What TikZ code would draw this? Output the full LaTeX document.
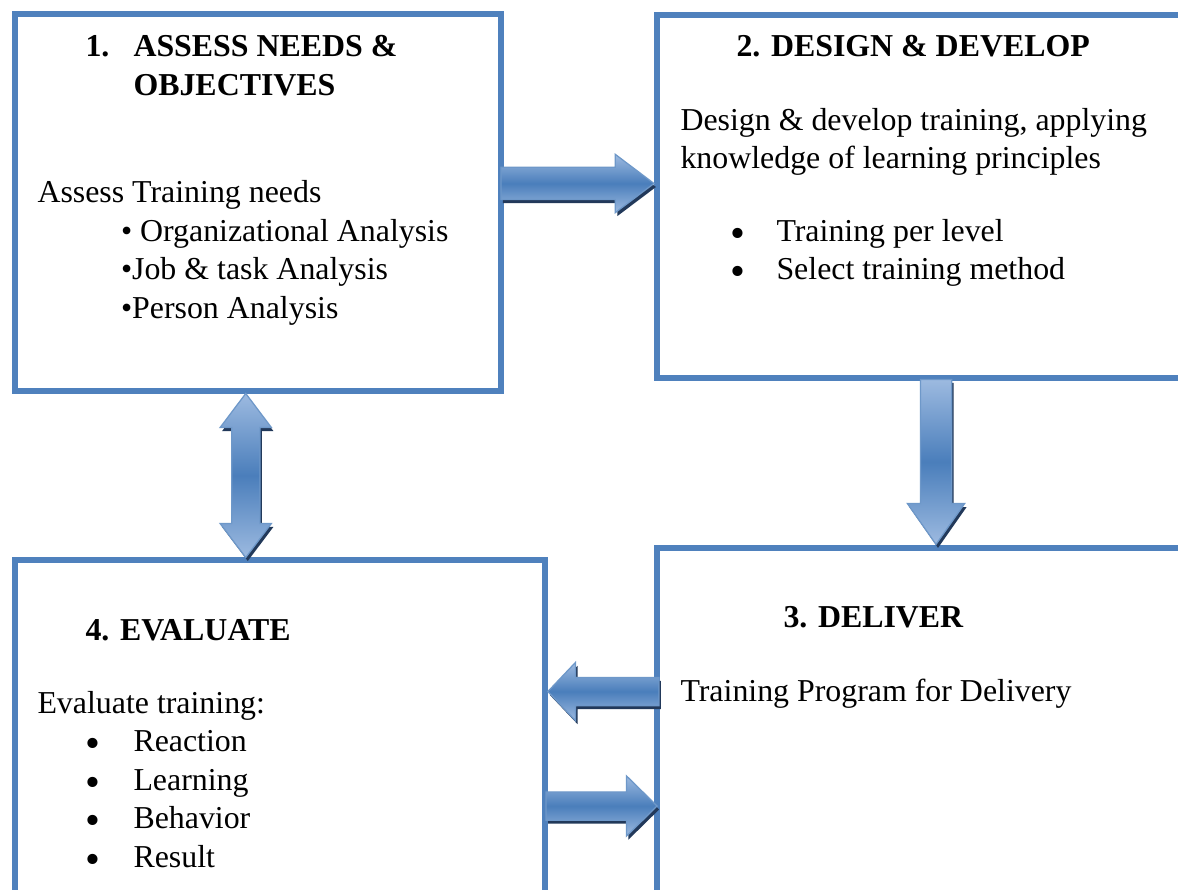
\documentclass[tikz,border=0pt]{standalone}
\usepackage{fontspec}
\setmainfont{Liberation Serif}
\usetikzlibrary{calc,shapes.arrows,shadows}
\definecolor{boxblue}{HTML}{4F81BD}
\definecolor{arrlight}{HTML}{9DBAE0}
\definecolor{arrmid}{HTML}{4A7EBB}
\definecolor{arrshade}{HTML}{22395A}
\newcommand\bigbul{\raisebox{-2.4pt}{\fontsize{17}{15}\selectfont\textbullet}}
\begin{document}
\begin{tikzpicture}[
  x=0.4pt, y=-0.4pt,
  font=\fontsize{12.75}{15.4}\selectfont,
  box/.style={draw=boxblue, line width=2.4pt, inner sep=0pt, outer sep=0pt, anchor=north west},
  head/.style={anchor=base west, inner sep=0pt, font=\fontsize{12.75}{15.4}\selectfont\bfseries},
  txt/.style={anchor=base west, inner sep=0pt},
  bul/.style={anchor=base, inner sep=0pt},
  blockarrow/.style={draw=arrmid!80!white, line width=0.5pt, minimum width=0pt,
    top color=arrlight, bottom color=arrlight, middle color=arrmid,
    drop shadow={shadow xshift=0.8pt, shadow yshift=-1.4pt, fill=arrshade, opacity=1}},
  onearrow/.style={blockarrow, single arrow, inner sep=#1, anchor=tip},
  twoarrow/.style={blockarrow, double arrow, inner sep=#1}
]
\useasboundingbox (0,0) rectangle (1178,890);
\fill[white] (0,0) rectangle (1178,890);
\clip (0,0) rectangle (1178,890);

% the four boxes
\node[box, minimum width=194.6pt, minimum height=150.8pt] (b1) at (14.5,14) {};
\node[box, minimum width=213.2pt, minimum height=145.2pt] (b2) at (657,15) {};
\node[box, minimum width=213.2pt, minimum height=140.8pt] (b3) at (657,548) {};
\node[box, minimum width=212.2pt, minimum height=136pt] (b4) at (14.5,560) {};

% box 1
\node[head] (h1n) at (85,57) {1.};
\node[head] (h1a) at (133,57) {ASSESS NEEDS \&};
\node[head] (h1b) at (133,95.5) {OBJECTIVES};
\node[txt] (t1a) at (37,203) {Assess Training needs};
\node[txt] (t1b) at (120.5,241.5) {\textbullet\ Organizational Analysis};
\node[txt] (t1c) at (120.5,280) {\textbullet Job \& task Analysis};
\node[txt] (t1d) at (120.5,318.5) {\textbullet Person Analysis};

% box 2
\node[head] (h2) at (736,57) {2. DESIGN \& DEVELOP};
\node[txt] (t2a) at (680,131) {Design \& develop training, applying};
\node[txt] (t2b) at (680,169) {knowledge of learning principles};
\node[bul] (t2c) at (738,242) {\bigbul};
\node[txt] (t2d) at (776,242) {Training per level};
\node[bul] (t2e) at (738,280) {\bigbul};
\node[txt] (t2f) at (776,280) {Select training method};

% box 3
\node[head] (h3) at (783,628) {3. DELIVER};
\node[txt] (t3a) at (680,701) {Training Program for Delivery};

% box 4
\node[head] (h4) at (85,641) {4. EVALUATE};
\node[txt] (t4a) at (37,713) {Evaluate training:};
\node[bul] (t4b) at (93,751) {\bigbul};
\node[txt] (t4c) at (133,751) {Reaction};
\node[bul] (t4d) at (93,790) {\bigbul};
\node[txt] (t4e) at (133,790) {Learning};
\node[bul] (t4f) at (93,828) {\bigbul};
\node[txt] (t4g) at (133,828) {Behavior};
\node[bul] (t4h) at (93,867) {\bigbul};
\node[txt] (t4i) at (133,867) {Result};

% block arrows between the boxes
\node[onearrow=6.2pt, minimum height=61.2pt, single arrow head extend=5.2pt,
  single arrow tip angle=74] (a12) at ($(b2.west)+(-2,-13)$) {};
\node[onearrow=6pt, minimum height=66pt, single arrow head extend=5.2pt,
  single arrow tip angle=70, shape border rotate=270] (a23) at ($(b3.north)+(12.5,-2.5)$) {};
\node[onearrow=5.4pt, minimum height=44.4pt, single arrow head extend=6pt,
  single arrow tip angle=93, shape border rotate=180] (a34) at ($(b4.east)+(2,-38.5)$) {};
\node[onearrow=5.4pt, minimum height=44.4pt, single arrow head extend=6.4pt,
  single arrow tip angle=89] (a43) at ($(b3.west)+(1,82)$) {};
\node[twoarrow=5.4pt, minimum height=65.6pt, double arrow head extend=4.6pt,
  double arrow tip angle=74, shape border rotate=90] (a14) at ($(b1.south)!0.5!(b4.north)+(-23,0)$) {};
\end{tikzpicture}
\end{document}
